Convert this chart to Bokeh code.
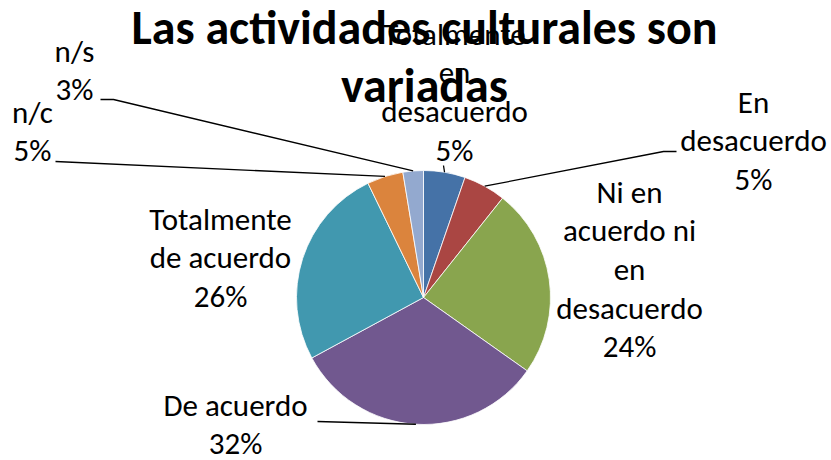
import math
from bokeh.plotting import figure
from bokeh.models import Range1d, ColumnDataSource
from bokeh.core.properties import value
from bokeh.embed import file_html
from bokeh.resources import INLINE

# ---- data ----
title_lines = ["Las actividades culturales son", "variadas"]
categories = [
    "Totalmente\nen\ndesacuerdo",
    "En\ndesacuerdo",
    "Ni en\nacuerdo ni\nen\ndesacuerdo",
    "De acuerdo",
    "Totalmente\nde acuerdo",
    "n/c",
    "n/s",
]
shares = [5.3, 5.4, 24.1, 32.3, 25.7, 4.6, 2.6]
colors = ["#4572A7", "#AA4643", "#89A54E", "#71588F", "#4198AF", "#DB843D", "#93A9CF"]

# ---- layout (picture pixel coordinates) ----
FONT = "Carlito, 'Liberation Sans Narrow', 'Open Sans', sans-serif"
W, H = 831, 460
CX, CY, R = 423, 297, 127
LINE_H = 38.7
LBL_SHIFT = -12     # renderer baseline correction for 31px text
TTL_SHIFT = -16     # renderer baseline correction for 48px text
# label block: (centre x, first baseline y)
label_pos = [(454, 45), (753, 113), (629, 203), (235, 416), (220, 230), (32, 123), (74, 62)]
# leader line label-side points (None = no leader)
leader_pts = [
    [(443, 165)],
    [(676, 151), (663, 151)],
    None,
    [(317, 421)],
    None,
    [(55, 161)],
    [(100, 99), (113, 99)],
]


def Y(py):
    return H - py


p = figure(width=W, height=H, x_range=Range1d(0, W), y_range=Range1d(0, H),
           output_backend="svg", toolbar_location=None, min_border=0,
           x_axis_type=None, y_axis_type=None)
p.outline_line_color = None
p.background_fill_color = "white"
p.border_fill_color = "white"

total = sum(shares)
starts, ends, mids = [], [], []
acc = 0.0
for v in shares:
    f0 = acc / total
    acc += v
    f1 = acc / total
    starts.append(math.pi / 2 - 2 * math.pi * f0)
    ends.append(math.pi / 2 - 2 * math.pi * f1)
    mids.append((f0 + f1) / 2)

src = ColumnDataSource(dict(start=starts, end=ends, color=colors, cat=categories, share=shares))
p.wedge(x=CX, y=Y(CY), radius=R, start_angle="start", end_angle="end", direction="clock",
        fill_color="color", line_color="white", line_width=0.8, source=src)

# leader lines
xs, ys = [], []
for i, pts in enumerate(leader_pts):
    if pts is None:
        continue
    a = 2 * math.pi * mids[i]
    ex = CX + R * math.sin(a)
    ey = CY - R * math.cos(a)
    lx = [q[0] for q in pts] + [ex]
    ly = [Y(q[1]) for q in pts] + [Y(ey)]
    xs.append(lx)
    ys.append(ly)
p.multi_line(xs=xs, ys=ys, line_color="black", line_width=1.3)

# labels
tx, ty, tt = [], [], []
for i, cat in enumerate(categories):
    lines = cat.split("\n") + [f"{int(shares[i] / total * 100 + 0.5)}%"]
    x0, y0 = label_pos[i]
    for k, ln in enumerate(lines):
        tx.append(x0)
        ty.append(Y(y0 + k * LINE_H + LBL_SHIFT))
        tt.append(ln)
p.text(x=tx, y=ty, text=tt, text_align="center", text_baseline="alphabetic",
       text_font=value(FONT), text_font_size="31px", text_color="black")

# title
p.text(x=[424, 424], y=[Y(43 + TTL_SHIFT), Y(101 + TTL_SHIFT)], text=title_lines,
       text_align="center", text_baseline="alphabetic", text_font=value(FONT),
       text_font_size="48px", text_font_style="bold", text_color="black")

open("out.html", "w").write(file_html(p, INLINE))
